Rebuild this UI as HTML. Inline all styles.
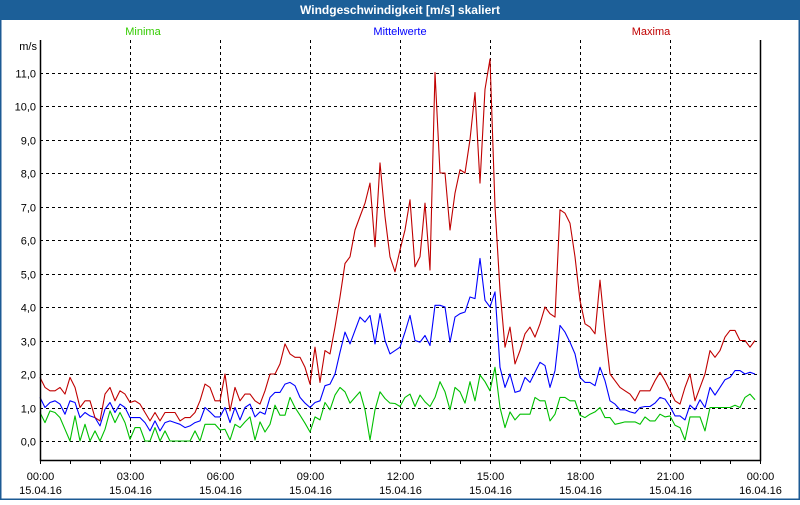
<!DOCTYPE html>
<html><head><meta charset="utf-8"><style>
body{margin:0;width:800px;height:500px;overflow:hidden;background:#fff;font-family:"Liberation Sans",sans-serif}
</style></head><body>
<svg id="chart" width="800" height="500" xmlns="http://www.w3.org/2000/svg" font-family="Liberation Sans, sans-serif">
<rect x="0.5" y="0.5" width="799" height="499" fill="#fff" stroke="#1c5a94" stroke-width="2"/>
<rect x="0" y="0" width="800" height="20" fill="#1c5f98"/>
<text x="400" y="14" text-anchor="middle" fill="#fff" font-size="12" font-weight="bold">Windgeschwindigkeit [m/s] skaliert</text>
<text x="143" y="35" text-anchor="middle" fill="#33cc00" font-size="11">Minima</text>
<text x="400" y="35" text-anchor="middle" fill="#0000ff" font-size="11">Mittelwerte</text>
<text x="651" y="35" text-anchor="middle" fill="#c00000" font-size="11">Maxima</text>
<text x="37" y="50" text-anchor="end" fill="#000" font-size="11">m/s</text>
<g id="grid"></g><g id="series"></g><g id="axes"></g>
</svg>
<script>
const yTicks=[0,1,2,3,4,5,6,7,8,9,10,11];
const xTickHours=[0,3,6,9,12,15,18,21,24];
const xTimeLabels=["00:00","03:00","06:00","09:00","12:00","15:00","18:00","21:00","00:00"];
const xDateLabels=["15.04.16","15.04.16","15.04.16","15.04.16","15.04.16","15.04.16","15.04.16","15.04.16","16.04.16"];
const maxima=[1.9,1.6,1.5,1.5,1.6,1.4,1.9,1.6,1.0,1.2,1.2,0.7,0.6,1.4,1.6,1.2,1.5,1.4,1.15,1.2,1.1,0.85,0.6,0.85,0.6,0.85,0.85,0.85,0.6,0.7,0.7,0.85,1.2,1.7,1.6,1.2,1.2,2.0,0.9,1.6,1.2,1.4,1.4,1.2,1.1,1.5,2.0,2.0,2.3,2.9,2.6,2.5,2.5,2.2,1.7,2.8,1.75,2.7,2.6,3.4,4.3,5.3,5.5,6.3,6.7,7.1,7.7,5.8,8.3,6.7,5.5,5.05,5.7,6.3,7.2,5.2,5.5,7.1,5.1,11.0,8.0,8.0,6.3,7.4,8.1,8.0,9.0,10.4,7.7,10.5,11.4,7.0,4.5,2.8,3.4,2.3,2.7,3.2,3.4,3.1,3.5,4.0,3.8,3.7,6.9,6.8,6.5,5.5,4.2,3.5,3.4,3.2,4.8,3.3,2.0,1.8,1.6,1.5,1.4,1.2,1.5,1.5,1.5,1.8,2.05,1.8,1.5,1.2,1.1,1.6,2.0,1.2,1.6,2.0,2.7,2.5,2.7,3.1,3.3,3.3,3.0,3.0,2.8,3.0];
const mittelwerte=[1.3,1.0,1.15,1.2,1.1,0.8,1.2,1.15,0.7,0.85,0.75,0.7,0.45,0.95,1.15,0.85,1.1,1.0,0.7,0.7,0.7,0.55,0.3,0.6,0.3,0.55,0.6,0.55,0.5,0.4,0.45,0.55,0.6,1.0,0.87,0.72,0.72,1.0,0.55,1.0,0.63,1.0,1.1,0.72,0.87,0.8,1.3,1.45,1.45,1.7,1.75,1.65,1.3,1.13,1.0,1.15,1.2,1.65,1.7,2.0,2.65,3.25,2.9,3.3,3.7,3.55,3.75,2.9,3.8,3.0,2.6,2.7,2.8,3.25,3.75,3.0,2.95,3.15,2.85,4.05,4.05,4.0,2.95,3.7,3.8,3.85,4.3,4.25,5.45,4.2,4.0,4.45,2.2,1.6,2.0,1.45,1.5,1.9,1.75,2.05,2.35,2.25,1.6,2.1,3.45,3.25,2.95,2.6,1.9,1.75,1.75,1.65,2.2,1.8,1.2,1.1,0.93,0.93,0.87,0.83,1.0,1.03,1.03,1.13,1.3,1.25,1.03,0.75,0.75,0.63,1.07,0.93,1.23,1.0,1.6,1.37,1.6,1.83,1.9,2.1,2.1,2.0,2.05,2.0];
const minima=[0.85,0.55,0.9,0.85,0.7,0.35,0.0,0.75,0.0,0.5,0.0,0.3,0.0,0.35,0.9,0.55,0.85,0.55,0.05,0.4,0.4,0.0,0.0,0.4,0.0,0.3,0.0,0.0,0.0,0.0,0.0,0.3,0.0,0.5,0.5,0.5,0.33,0.35,0.03,0.5,0.4,0.57,0.72,0.03,0.57,0.27,0.5,1.07,0.77,0.77,1.3,1.0,0.77,0.53,0.27,0.72,0.63,1.15,0.93,1.37,1.6,1.47,1.13,1.3,1.47,0.93,0.03,0.93,1.47,1.27,1.13,1.12,1.03,1.3,1.4,1.03,1.37,1.17,1.03,1.3,1.77,1.47,0.93,1.6,1.47,1.13,1.77,1.2,1.97,1.77,1.5,2.2,1.0,0.4,0.87,0.63,0.8,0.8,0.8,1.3,1.2,1.2,0.6,0.8,1.3,1.3,1.2,1.2,0.77,0.7,0.8,0.87,1.0,0.7,0.7,0.5,0.53,0.57,0.57,0.57,0.5,0.72,0.6,0.6,0.8,0.72,0.75,0.47,0.4,0.03,0.72,0.72,0.72,0.3,1.0,1.0,1.0,1.0,1.0,1.07,1.0,1.3,1.4,1.23];

const NS="http://www.w3.org/2000/svg";
const L=40,R=760,T=40,B=460;
function xScale(h){return L+(R-L)*h/24;}
function yScale(v){return 441-33.5*v;}
function mk(tag,attrs,parent){const e=document.createElementNS(NS,tag);for(const k in attrs)e.setAttribute(k,attrs[k]);parent.appendChild(e);return e;}
const grid=document.getElementById('grid'),series=document.getElementById('series'),axes=document.getElementById('axes');
yTicks.forEach(v=>{
  const y=Math.round(yScale(v))+0.5;
  const ln=mk('line',{x1:L,x2:R,y1:y,y2:y,stroke:'#000','stroke-dasharray':'3,3','stroke-width':1},grid);
  
  
  const t=mk('text',{x:36,y:y+4,'text-anchor':'end','font-size':11,fill:'#000'},axes);
  t.textContent=v.toFixed(1).replace('.',',');
  
  
});
xTickHours.forEach((h,i)=>{
  const x=Math.round(xScale(h))+0.5;
  if(h>0&&h<24){
    const ln=mk('line',{x1:x,x2:x,y1:T,y2:B,stroke:'#000','stroke-dasharray':'3,3','stroke-width':1},grid);
    
    
  }
  const t1=mk('text',{x:x,y:480,'text-anchor':'middle','font-size':11,fill:'#000'},axes);
  t1.textContent=xTimeLabels[i];
  
  
  const t2=mk('text',{x:x,y:494,'text-anchor':'middle','font-size':11,fill:'#000'},axes);
  t2.textContent=xDateLabels[i];
  
  
});
for(let h=0;h<=24;h++){
  const x=Math.round(xScale(h))+0.5;
  const tk=mk('line',{x1:x,x2:x,y1:B,y2:B+4,stroke:'#000'},axes);
  
  
}
const axl=mk('path',{d:`M${L+0.5},${T} V${B+0.5} H${R+0.5} V${T}`,fill:'none',stroke:'#000','stroke-width':1.5},axes);


function drawSeries(arr,color,name){
  const pts=arr.map((v,i)=>xScale(i/6).toFixed(1)+','+yScale(v).toFixed(1)).join(' ');
  const p=mk('polyline',{points:pts,fill:'none',stroke:color,'stroke-width':1.1,'stroke-linejoin':'round'},series);
  
  
}
drawSeries(minima,'#00c000','series-minima');
drawSeries(mittelwerte,'#0000ff','series-mittelwerte');
drawSeries(maxima,'#c00000','series-maxima');
</script>
</body></html>
